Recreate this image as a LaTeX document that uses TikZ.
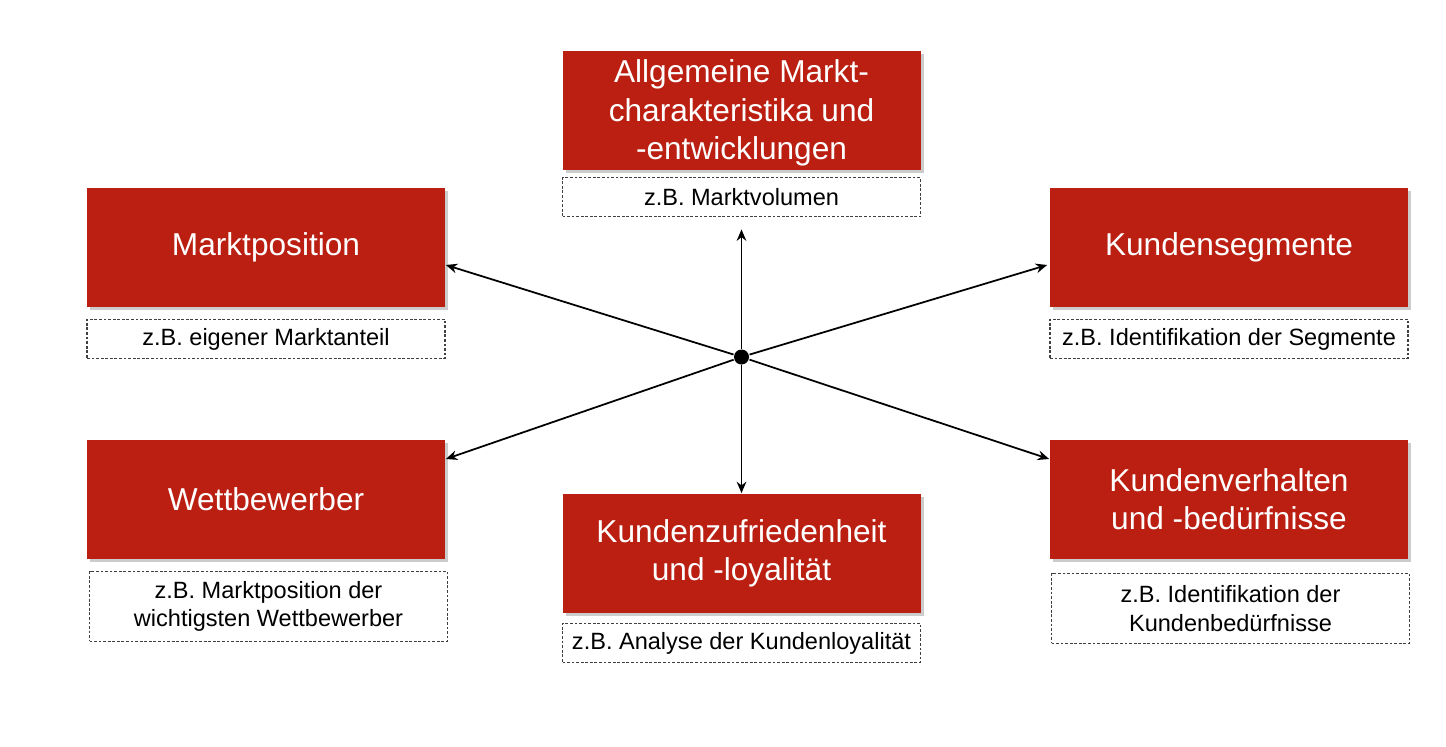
\documentclass[tikz,border=0pt]{standalone}
\usepackage{fontspec}
\setmainfont{Liberation Sans}
\usetikzlibrary{positioning,shadows,arrows.meta}

\begin{document}
\begin{tikzpicture}[->, >={Stealth[length=6.5pt,width=5.5pt]}, line width=1pt, node distance=0.2cm]

    \tikzstyle{area}=[rectangle, fill={rgb,255:red,186;green,31;blue,18}, text=white,
        minimum width=7.16cm, minimum height=2.38cm, align=center,
        font=\fontsize{18}{21.8}\selectfont,
        drop shadow={opacity=0.4, shadow xshift=0.06cm, shadow yshift=-0.06cm}]
    \tikzstyle{example}=[rectangle, draw=black!75, line width=0.6pt,
        dash pattern=on 1.6pt off 1pt, minimum width=7.16cm, minimum height=0.78cm,
        align=center, text=black, font=\fontsize{13.4}{16.4}\selectfont]
    \tikzstyle{hub}=[circle, fill=black, inner sep=0pt, minimum size=0.3cm]

    \useasboundingbox (0,0) rectangle (28.92,-14.92);

    \node[area, inner ysep=1pt] (mvol) at (14.83,-2.2) {\rule{0pt}{16.5pt}Allgemeine Markt-\\charakteristika und\\-entwicklungen};
    \node[example] (mvolx) [below=0.14cm of mvol] {z.B. Marktvolumen};

    \node[area] (mpos) at (5.32,-4.95) {Marktposition};
    \node[example] (mposx) [below=0.22cm of mpos] {z.B. eigener Marktanteil};

    \node[area] (kseg) at (24.58,-4.95) {Kundensegmente};
    \node[example] (ksegx) [below=0.22cm of kseg] {z.B. Identifikation der Segmente};

    \node[area] (wett) at (5.32,-9.99) {Wettbewerber};
    \node[example, minimum height=1.4cm] (wettx) [below=0.22cm of wett, xshift=0.05cm]
        {z.B. Marktposition der\\wichtigsten Wettbewerber};

    \node[area] (kzuf) at (14.83,-11.07) {Kundenzufriedenheit\\und -loyalität};
    \node[example] (kzufx) [below=0.18cm of kzuf] {z.B. Analyse der Kundenloyalität};

    \node[area] (kver) at (24.58,-9.99) {Kundenverhalten\\und -bedürfnisse};
    \node[example, minimum height=1.4cm] (kverx) [below=0.26cm of kver, xshift=0.03cm]
        {z.B. Identifikation der\\Kundenbedürfnisse};

    \node[hub] (c) at (14.83,-7.14) {};

    \path (c) edge ([yshift=-0.24cm]mvolx.south)
              edge ([yshift=-0.35cm]mpos.east)
              edge ([xshift=-0.04cm, yshift=-0.35cm]kseg.west)
              edge ([yshift=0.81cm]wett.east)
              edge (kzuf.north)
              edge ([yshift=0.81cm]kver.west);
\end{tikzpicture}
\end{document}
